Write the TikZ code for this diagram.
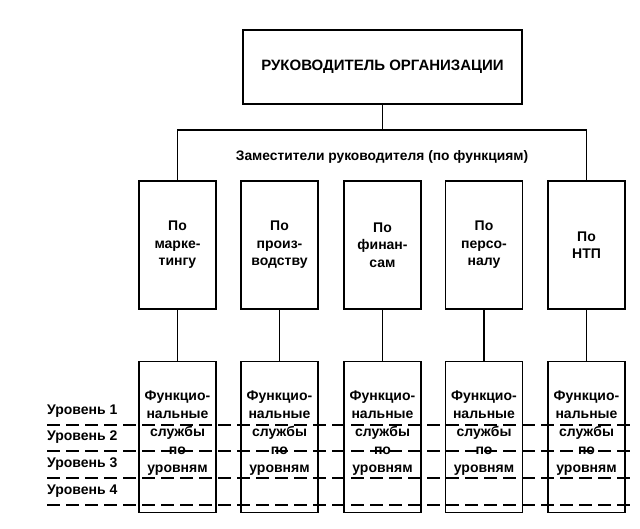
\documentclass[tikz,border=0pt]{standalone}
\usepackage{fontspec}
\setmainfont{Liberation Sans}
\begin{document}
\begin{tikzpicture}[x=1pt,y=-1pt,
  box/.style={draw,line width=1.1pt,minimum width=77pt,inner sep=0pt,align=center,font=\bfseries\fontsize{14}{17.5}\selectfont},
  up/.style={box,minimum height=128pt},
  low/.style={box,minimum height=151pt},
  lvl/.style={anchor=west,inner sep=0pt,font=\bfseries\fontsize{14}{16}\selectfont},
  lvline/.style={dashed,dash pattern=on 13pt off 6pt,line width=1.1pt},
  conn/.style={line width=1.1pt}]
\useasboundingbox (0,0) rectangle (640,529);
\node[box,minimum width=279pt,minimum height=74pt,font=\fontsize{15}{17}\selectfont\bfseries] (top) at (382.5,67) {РУКОВОДИТЕЛЬ ОРГАНИЗАЦИИ};
\node[font=\bfseries\fontsize{13.8}{16}\selectfont] (dep) at (382,157) {Заместители руководителя (по функциям)};
\node[up] (u1) at (177.5,245) {По\\марке-\\тингу};
\node[up] (u2) at (279.5,245) {По\\произ-\\водству};
\node[up] (u3) at (382.5,245) {По\\финан-\\сам};
\node[up] (u4) at (484,245) {По\\персо-\\налу};
\node[up] (u5) at (586.5,245) {По\\НТП};
\foreach \i/\x in {1/177.5,2/279.5,3/382.5,4/484,5/586.5}{
  \node[low,anchor=north] (l\i) at (\x,361) {};
  \node[font=\bfseries\fontsize{14}{18}\selectfont,align=center] (t\i) at (\x,433) {Функцио-\\нальные\\службы\\по\\уровням};
  \draw[conn] (u\i.south) -- (l\i.north);
}
\coordinate (bl) at (177.5,130);
\coordinate (br) at (586.5,130);
\draw[conn] (top.south) -- (382.5,130);
\draw[conn] (u1.north) -- (bl) -- (br) -- (u5.north);
\node[lvl] (v1) at (47,411) {Уровень 1};
\node[lvl] (v2) at (47,437) {Уровень 2};
\node[lvl] (v3) at (47,464) {Уровень 3};
\node[lvl] (v4) at (47,491) {Уровень 4};
\foreach \y in {425,451,478,505}{
  \draw[lvline] (47,\y) -- (632,\y);
}
\end{tikzpicture}
\end{document}
